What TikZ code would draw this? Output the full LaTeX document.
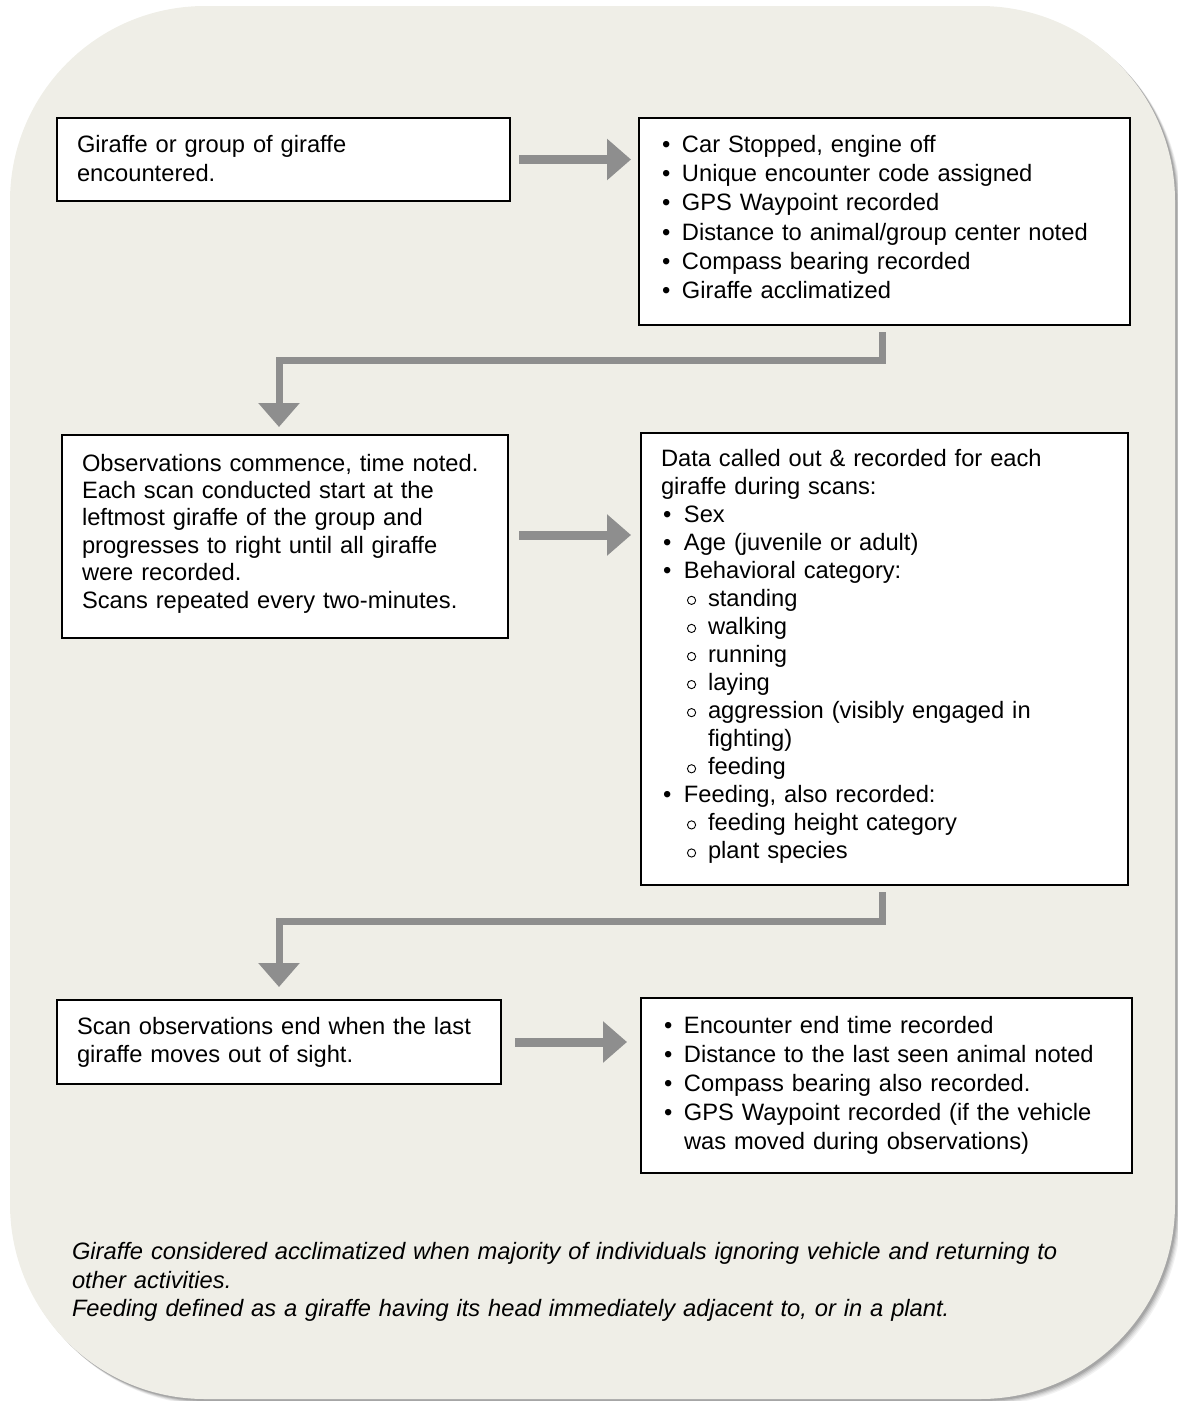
\documentclass[tikz,border=0pt]{standalone}
\usepackage{fontspec}
\setmainfont{Liberation Sans}
\usetikzlibrary{arrows.meta,calc}
\definecolor{bgcol}{RGB}{239,238,231}
\definecolor{arrcol}{RGB}{142,142,142}
\newcommand{\Bl}[3]{\hspace*{#1pt}\makebox[\dimexpr#2pt-#1pt\relax][l]{•}#3}
\newcommand{\subcirc}{\tikz[baseline=0pt]\draw[line width=0.9pt] (4.6pt,6pt) circle (4.1pt);}
\newcommand{\Sl}[3]{\hspace*{#1pt}\makebox[\dimexpr#2pt-#1pt\relax][l]{\subcirc}#3}
\newcommand{\Tl}[2]{\hspace*{#1pt}#2}
\tikzset{
  box/.style={draw=black, line width=1.6pt, fill=white, anchor=north west, inner sep=0pt, outer sep=0pt},
  txt/.style={anchor=base west, inner sep=0pt, outer sep=0pt, text width=490pt, align=left},
  harrow/.style={draw=arrcol, line width=9pt, -{Triangle[width=40pt,length=24pt]}},
  elbow/.style={draw=arrcol, line width=7pt, line join=miter, -{Triangle[width=40pt,length=24pt]}},
}
\begin{document}
\begin{tikzpicture}[x=1pt,y=-1pt]
\useasboundingbox (0,0) rectangle (1178,1401);
% background panel with soft shadow
\foreach \o/\a in {6/0.05,5/0.06,4/0.08,3/0.10,2/0.12}{
  \fill[black, opacity=\a, rounded corners=195pt] (10+\o,6+\o) rectangle (1175+\o,1399+\o);
}
\fill[bgcol, rounded corners=195pt] (10,6) rectangle (1175,1399);

% boxes
\node[box, minimum width=453pt, minimum height=83pt] (b1) at (57,118) {};
\node[box, minimum width=491pt, minimum height=207pt] (b2) at (639,118) {};
\node[box, minimum width=446pt, minimum height=203pt] (b3) at (62,435) {};
\node[box, minimum width=487pt, minimum height=452pt] (b4) at (641,433) {};
\node[box, minimum width=444pt, minimum height=84pt] (b5) at (57,1000) {};
\node[box, minimum width=491pt, minimum height=175pt] (b6) at (641,998) {};

% texts
\node[txt, font=\fontsize{23.7}{29}\selectfont] (t1) at ([xshift=20pt,yshift=-34pt]b1.north west)
 {Giraffe or group of giraffe\\encountered.};
\node[txt, font=\fontsize{23.7}{29.2}\selectfont] (t2) at ([yshift=-34.5pt]b2.north west)
 {\Bl{23}{43}{Car Stopped, engine off}\\
  \Bl{23}{43}{Unique encounter code assigned}\\
  \Bl{23}{43}{GPS Waypoint recorded}\\
  \Bl{23}{43}{Distance to animal/group center noted}\\
  \Bl{23}{43}{Compass bearing recorded}\\
  \Bl{23}{43}{Giraffe acclimatized}};
\node[txt, font=\fontsize{23.7}{27.4}\selectfont] (t3) at ([xshift=20pt,yshift=-36pt]b3.north west)
 {Observations commence, time noted.\\
  Each scan conducted start at the\\
  leftmost giraffe of the group and\\
  progresses to right until all giraffe\\
  were recorded.\\
  Scans repeated every two-minutes.};
\node[txt, font=\fontsize{23.7}{28.07}\selectfont] (t4) at ([yshift=-33pt]b4.north west)
 {\Tl{20}{Data called out \& recorded for each}\\
  \Tl{20}{giraffe during scans:}\\
  \Bl{22}{43}{Sex}\\
  \Bl{22}{43}{Age (juvenile or adult)}\\
  \Bl{22}{43}{Behavioral category:}\\
  \Sl{46}{67}{standing}\\
  \Sl{46}{67}{walking}\\
  \Sl{46}{67}{running}\\
  \Sl{46}{67}{laying}\\
  \Sl{46}{67}{aggression (visibly engaged in}\\
  \Tl{67}{fighting)}\\
  \Sl{46}{67}{feeding}\\
  \Bl{22}{43}{Feeding, also recorded:}\\
  \Sl{46}{67}{feeding height category}\\
  \Sl{46}{67}{plant species}};
\node[txt, font=\fontsize{23.7}{28}\selectfont] (t5) at ([xshift=20pt,yshift=-34.5pt]b5.north west)
 {Scan observations end when the last\\giraffe moves out of sight.};
\node[txt, font=\fontsize{23.7}{29}\selectfont] (t6) at ([yshift=-35pt]b6.north west)
 {\Bl{23}{43}{Encounter end time recorded}\\
  \Bl{23}{43}{Distance to the last seen animal noted}\\
  \Bl{23}{43}{Compass bearing also recorded.}\\
  \Bl{23}{43}{GPS Waypoint recorded (if the vehicle}\\
  \Tl{43}{was moved during observations)}};
\node[txt, text width=1090pt, font=\fontsize{23.7}{28.5}\selectfont\itshape] (note) at (72,1259.5)
 {Giraffe considered acclimatized when majority of individuals ignoring vehicle and returning to\\
  other activities.\\
  Feeding defined as a giraffe having its head immediately adjacent to, or in a plant.};

% connectors
\coordinate (a1s) at ([xshift=9pt]b1.east);
\coordinate (a2s) at ([xshift=11pt,yshift=1.5pt]b3.east);
\coordinate (a3s) at ([xshift=14pt]b5.east);
\draw[harrow] (a1s) -- ($(b2.west |- a1s)+(-8,0)$);
\draw[harrow] (a2s) -- ($(b4.west |- a2s)+(-10,0)$);
\draw[harrow] (a3s) -- ($(b6.west |- a3s)+(-14,0)$);

\coordinate (e1) at (279,360);
\coordinate (e2) at (279,921);
\draw[elbow] ($(b2.south)+(-2.5,7)$) |- (e1) -- ($(e1 |- b3.north)+(0,-8)$);
\draw[elbow] ($(b4.south)+(-2.5,7)$) |- (e2) -- ($(e2 |- b5.north)+(0,-13)$);
\end{tikzpicture}
\end{document}
